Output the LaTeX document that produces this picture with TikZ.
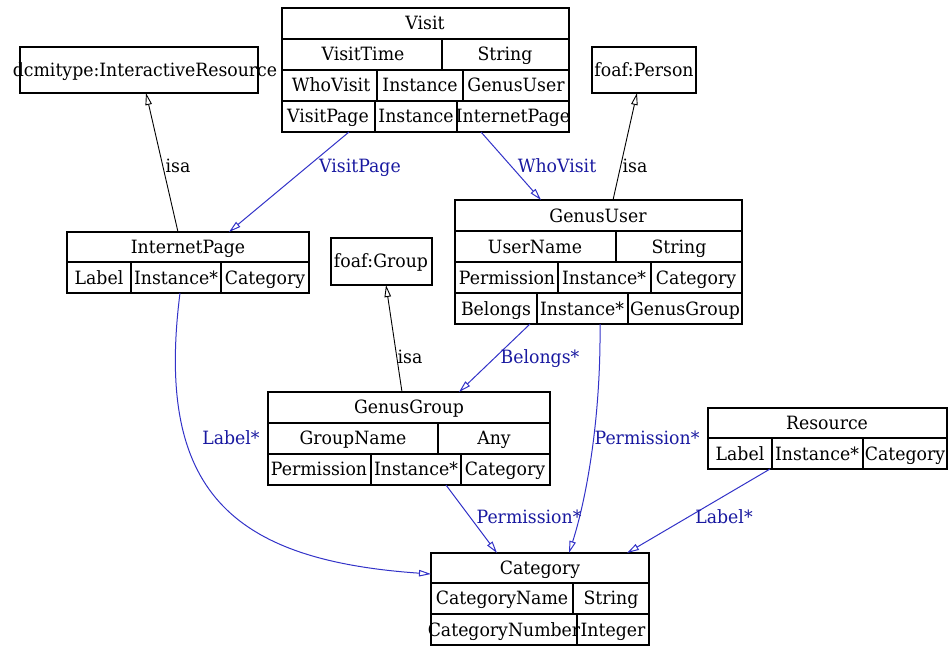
\documentclass[tikz,border=0pt]{standalone}
\usepackage{fontspec}
\setmainfont{DejaVu Serif}[FakeStretch=0.945]
\usetikzlibrary{arrows.meta,calc}
\definecolor{edgeblue}{RGB}{50,50,200}
\definecolor{labelblue}{RGB}{25,25,160}
\tikzset{
  classbox/.style={draw, line width=1.2pt, inner sep=0pt, outer sep=0pt, anchor=north west},
  rowrule/.style={line width=1.2pt},
  txt/.style={inner sep=0pt, text height=13.3pt, text depth=0pt, font=\fontsize{18.3}{21}\selectfont},
  elabel/.style={txt, text=labelblue},
  isalabel/.style={txt},
  assoc/.style={draw=edgeblue, line width=1pt, -{Triangle[open,length=12pt,width=6.5pt]}},
  isaedge/.style={draw=black, line width=0.9pt, -{Triangle[open,length=12pt,width=6.5pt]}}
}
\begin{document}
\begin{tikzpicture}[x=1pt,y=-1pt]
\useasboundingbox (0,0) rectangle (949,646);

% ---------- class boxes ----------
\node[classbox, minimum width=238pt, minimum height=46pt] (dcmi) at (20,47) {};
\node[classbox, minimum width=287pt, minimum height=124pt] (visit) at (282,8) {};
\node[classbox, minimum width=104pt, minimum height=46pt] (person) at (592,47) {};
\node[classbox, minimum width=287pt, minimum height=124pt] (guser) at (455,200) {};
\node[classbox, minimum width=242pt, minimum height=61pt] (ipage) at (67,232) {};
\node[classbox, minimum width=101pt, minimum height=47pt] (group) at (331,238) {};
\node[classbox, minimum width=282pt, minimum height=93pt] (ggroup) at (268,392) {};
\node[classbox, minimum width=239pt, minimum height=61pt] (resource) at (708,408) {};
\node[classbox, minimum width=218pt, minimum height=92pt] (category) at (431,553) {};

% dcmitype
\node[txt] (dcmiT) at (145,70) {dcmitype:InteractiveResource};
% foaf:Person
\node[txt] (personT) at (644,70) {foaf:Person};
% foaf:Group
\node[txt] (groupT) at (381,261) {foaf:Group};

% Visit
\draw[rowrule] (282,39) -- (569,39);
\draw[rowrule] (282,70) -- (569,70);
\draw[rowrule] (282,101) -- (569,101);
\draw[rowrule] (442,39) -- (442,70);
\draw[rowrule] (377,70) -- (377,101);
\draw[rowrule] (463,70) -- (463,101);
\draw[rowrule] (375,101) -- (375,132);
\draw[rowrule] (457,101) -- (457,132);
\node[txt] (visitT) at (425,23) {Visit};
\node[txt] (visit11) at (363,54) {VisitTime};
\node[txt] (visit12) at (505,54) {String};
\node[txt] (visit21) at (331,85) {WhoVisit};
\node[txt] (visit22) at (420,85) {Instance};
\node[txt] (visit23) at (516,85) {GenusUser};
\node[txt] (visit31) at (328,116) {VisitPage};
\node[txt] (visit32) at (416,116) {Instance};
\node[txt] (visit33) at (513,116) {InternetPage};

% GenusUser
\draw[rowrule] (455,231) -- (742,231);
\draw[rowrule] (455,262) -- (742,262);
\draw[rowrule] (455,293) -- (742,293);
\draw[rowrule] (616,231) -- (616,262);
\draw[rowrule] (558,262) -- (558,293);
\draw[rowrule] (651,262) -- (651,293);
\draw[rowrule] (537,293) -- (537,324);
\draw[rowrule] (628,293) -- (628,324);
\node[txt] (guserT) at (598,216) {GenusUser};
\node[txt] (guser11) at (535,247) {UserName};
\node[txt] (guser12) at (679,247) {String};
\node[txt] (guser21) at (507,278) {Permission};
\node[txt] (guser22) at (604,278) {Instance*};
\node[txt] (guser23) at (696,278) {Category};
\node[txt] (guser31) at (496,309) {Belongs};
\node[txt] (guser32) at (582,309) {Instance*};
\node[txt] (guser33) at (685,309) {GenusGroup};

% InternetPage
\draw[rowrule] (67,262) -- (309,262);
\draw[rowrule] (131,262) -- (131,293);
\draw[rowrule] (221,262) -- (221,293);
\node[txt] (ipageT) at (188,247) {InternetPage};
\node[txt] (ipage1) at (99,278) {Label};
\node[txt] (ipage2) at (176,278) {Instance*};
\node[txt] (ipage3) at (265,278) {Category};

% GenusGroup
\draw[rowrule] (268,423) -- (550,423);
\draw[rowrule] (268,454) -- (550,454);
\draw[rowrule] (438,423) -- (438,454);
\draw[rowrule] (371,454) -- (371,485);
\draw[rowrule] (461,454) -- (461,485);
\node[txt] (ggroupT) at (409,407) {GenusGroup};
\node[txt] (ggroup11) at (353,438) {GroupName};
\node[txt] (ggroup12) at (494,438) {Any};
\node[txt] (ggroup21) at (319,469) {Permission};
\node[txt] (ggroup22) at (416,469) {Instance*};
\node[txt] (ggroup23) at (505,469) {Category};

% Resource
\draw[rowrule] (708,438) -- (947,438);
\draw[rowrule] (772,438) -- (772,469);
\draw[rowrule] (863,438) -- (863,469);
\node[txt] (resourceT) at (827,423) {Resource};
\node[txt] (resource1) at (740,454) {Label};
\node[txt] (resource2) at (817,454) {Instance*};
\node[txt] (resource3) at (905,454) {Category};

% Category
\draw[rowrule] (431,583) -- (649,583);
\draw[rowrule] (431,614) -- (649,614);
\draw[rowrule] (573,583) -- (573,614);
\draw[rowrule] (577,614) -- (577,645);
\node[txt] (categoryT) at (540,568) {Category};
\node[txt] (category11) at (502,598) {CategoryName};
\node[txt] (category12) at (611,598) {String};
\node[txt] (category21) at (504,630) {CategoryNumber};
\node[txt] (category22) at (613,630) {Integer};

% ---------- connectors ----------
\draw[isaedge] ($(ipage.north west)+(111,0)$) -- ($(dcmi.south west)+(126,0)$);
\draw[assoc] ($(visit.south west)+(67,0)$) -- ($(ipage.north west)+(162,0)$);
\draw[assoc] ($(visit.south west)+(199,0)$) -- ($(guser.north west)+(86,0)$);
\draw[isaedge] ($(guser.north west)+(158,0)$) -- ($(person.south west)+(45,0)$);
\draw[isaedge] ($(ggroup.north west)+(134,0)$) -- ($(group.south west)+(55,0)$);
\draw[assoc] ($(guser.south west)+(75,0)$) -- ($(ggroup.north west)+(191,0)$);
\draw[assoc] ($(guser.south west)+(145,0)$) .. controls (601,420) and (586,500) .. ($(category.north west)+(138,0)$);
\draw[assoc] ($(ggroup.south west)+(178,0)$) -- ($(category.north west)+(66,0)$);
\draw[assoc] ($(resource.south west)+(62,0)$) -- ($(category.north west)+(196,0)$);
\draw[assoc] ($(ipage.south west)+(113,0)$) .. controls (155,490) and (230,560) .. ($(category.north west)+(0,21)$);

% ---------- connector labels ----------
\node[isalabel] (l1) at (178,166) {isa};
\node[elabel] (l2) at (360,166) {VisitPage};
\node[elabel] (l3) at (557,166) {WhoVisit};
\node[isalabel] (l4) at (635,166) {isa};
\node[isalabel] (l5) at (410,357) {isa};
\node[elabel] (l6) at (540,357) {Belongs*};
\node[elabel] (l7) at (647,438) {Permission*};
\node[elabel] (l8) at (231,438) {Label*};
\node[elabel] (l9) at (529,517) {Permission*};
\node[elabel] (l10) at (724,517) {Label*};
\end{tikzpicture}
\end{document}
